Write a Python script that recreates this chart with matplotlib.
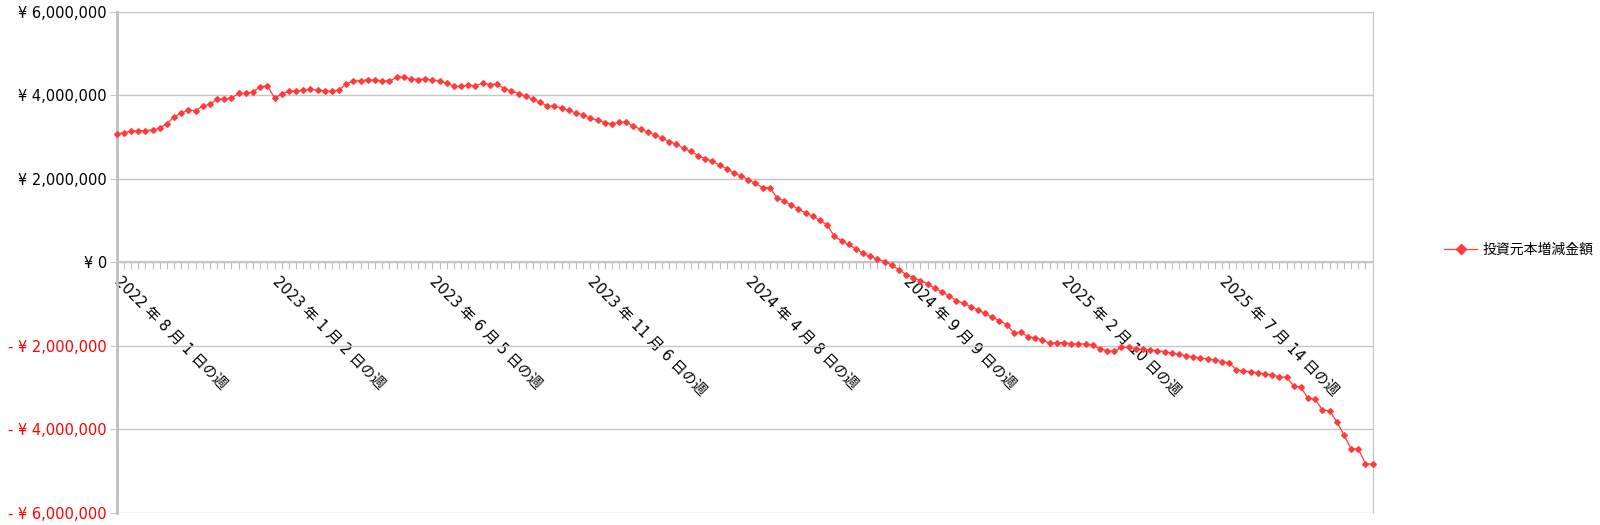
"""
Weekly change in invested principal (投資元本増減金額), 2022-08 to 2025-12.
"""
# Library import ------------------------------------------

import numpy as np
import pandas as pd
import matplotlib
matplotlib.use('Agg')
import matplotlib.pyplot as plt

plt.rcParams['font.family'] = ['DejaVu Sans', 'Noto Sans CJK JP']

# Data ----------------------------------------------------

week_start = '2022-08-01'
n_weeks = 176
label_every = 22
series_name = '投資元本増減金額'

# values in millions of yen, one per week
values_m = [
    3.065, 3.105, 3.137, 3.153, 3.153, 3.168, 3.209, 3.321, 3.480, 3.576,
    3.641, 3.633, 3.737, 3.785, 3.905, 3.913, 3.929, 4.042, 4.042, 4.080,
    4.200, 4.224, 3.937, 4.020, 4.100, 4.100, 4.120, 4.140, 4.120, 4.100,
    4.090, 4.130, 4.265, 4.345, 4.345, 4.370, 4.360, 4.345, 4.340, 4.425,
    4.440, 4.385, 4.375, 4.385, 4.360, 4.340, 4.290, 4.215, 4.210, 4.240,
    4.225, 4.290, 4.255, 4.265, 4.160, 4.100, 4.040, 3.980, 3.898, 3.833,
    3.737, 3.737, 3.696, 3.634, 3.576, 3.528, 3.449, 3.401, 3.346, 3.312,
    3.353, 3.353, 3.264, 3.185, 3.120, 3.048, 2.969, 2.890, 2.825, 2.729,
    2.657, 2.554, 2.482, 2.417, 2.328, 2.242, 2.136, 2.064, 1.978, 1.889,
    1.786, 1.786, 1.546, 1.464, 1.368, 1.272, 1.181, 1.097, 1.001, 0.893,
    0.617, 0.514, 0.425, 0.317, 0.209, 0.137, 0.070, 0.017, -0.067, -0.182,
    -0.295, -0.374, -0.439, -0.518, -0.624, -0.710, -0.816, -0.919, -0.984, -1.063,
    -1.142, -1.224, -1.320, -1.399, -1.495, -1.687, -1.680, -1.783, -1.814, -1.862,
    -1.944, -1.927, -1.927, -1.958, -1.958, -1.958, -1.992, -2.071, -2.119, -2.136,
    -2.040, -2.040, -2.071, -2.088, -2.102, -2.119, -2.143, -2.174, -2.208, -2.239,
    -2.270, -2.294, -2.318, -2.342, -2.383, -2.407, -2.575, -2.606, -2.623, -2.647,
    -2.678, -2.702, -2.743, -2.760, -2.959, -3.000, -3.254, -3.288, -3.535, -3.559,
    -3.823, -4.135, -4.471, -4.471, -4.824, -4.838,
]

y_ticks = [-6e6, -4e6, -2e6, 0, 2e6, 4e6, 6e6]

weeks = pd.date_range(week_start, periods=n_weeks, freq='7D')
values = np.array(values_m) * 1e6
x = np.arange(n_weeks)

def yen(v):
    if v < 0:
        return '- ¥ {:,.0f}'.format(-v)
    return '¥ {:,.0f}'.format(v)

def week_label(d):
    return '{} 年 {} 月 {} 日の週'.format(d.year, d.month, d.day)

# Plot ----------------------------------------------------

red = '#ff3b3b'
grid_c = '#c6c6c6'
fs = 10.5

fig = plt.figure(figsize=(16, 5.25), dpi=100)
ax = fig.add_axes([0.0729, 0.0234, 0.785, 0.9543])

# category axis crosses at zero (do this first, it rebuilds the ticks)
ax.spines['bottom'].set_position(('data', 0))
ax.spines['bottom'].set_color(grid_c)
ax.spines['bottom'].set_linewidth(1.5)
ax.spines['left'].set_color('#c0c0c0')
ax.spines['left'].set_linewidth(2)
ax.spines['top'].set_color(grid_c)
ax.spines['right'].set_color(grid_c)
ax.set_axisbelow(True)

ax.plot(x, values, color=red, lw=0.9, marker='D', ms=2.9,
        mec=red, mfc=red, clip_on=False, label=series_name, zorder=3)

ax.set_xlim(0, n_weeks - 1)
ax.set_ylim(-6e6, 6e6)

ax.set_yticks(y_ticks)
ax.set_yticklabels([yen(v) for v in y_ticks], fontsize=fs)
for lab, v in zip(ax.get_yticklabels(), y_ticks):
    lab.set_color('#ff0000' if v < 0 else '#000000')
ax.yaxis.grid(True, color=grid_c, lw=1)
ax.tick_params(axis='y', length=5, color=grid_c, pad=2)

ax.tick_params(axis='x', length=5, color='#bdbdbd', pad=7)
ax.set_xticks(x)
ax.set_xticklabels([week_label(d) if i % label_every == 0 else ''
                    for i, d in enumerate(weeks)], fontsize=fs,
                   rotation=-45, ha='left', va='center', rotation_mode='anchor')

fig.legend(loc='center left', bbox_to_anchor=(0.9025, 0.524), frameon=False,
           fontsize=10, handlelength=2.4, handletextpad=0.4,
           borderpad=0, borderaxespad=0, markerscale=1.6)

plt.savefig('out.png', dpi=100)
